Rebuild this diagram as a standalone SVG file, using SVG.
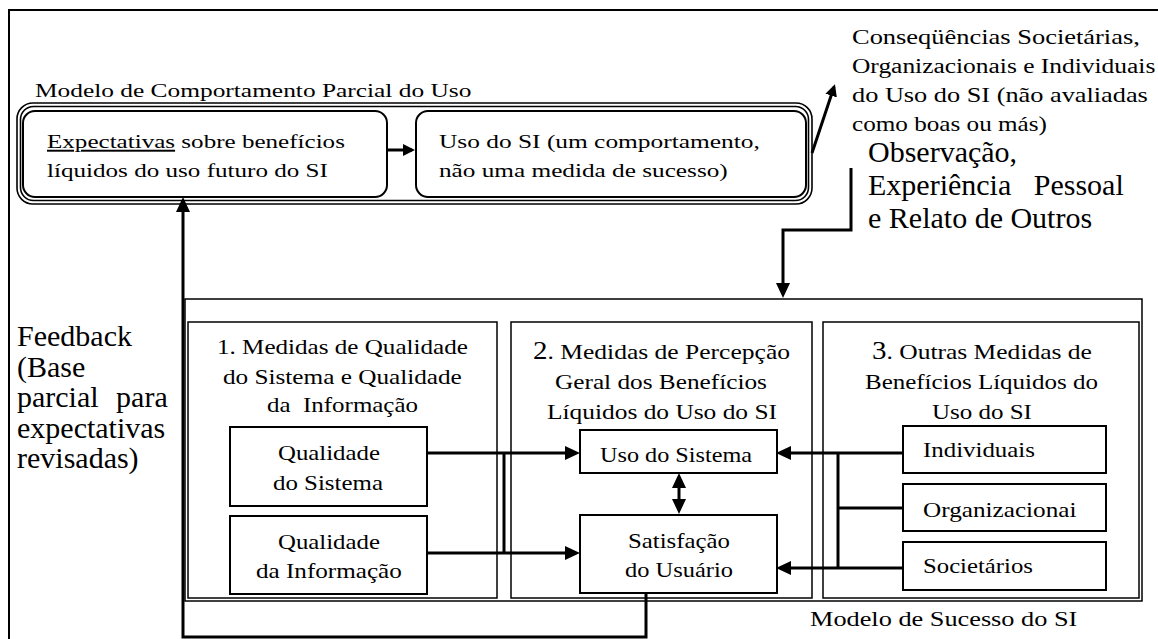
<svg xmlns="http://www.w3.org/2000/svg" width="1158" height="639" viewBox="0 0 1158 639">
<style>
text{fill:#000}
.box{fill:#fff;stroke:#000;stroke-width:2}
.col{fill:none;stroke:#000;stroke-width:1.5}
.rb{fill:none;stroke:#000;stroke-width:1.6}
.ln{fill:none;stroke:#000;stroke-width:3}
</style>
<defs>
<marker id="ah" viewBox="0 0 15 14" refX="11" refY="7" markerWidth="15" markerHeight="14" markerUnits="userSpaceOnUse" orient="auto-start-reverse"><path d="M0,0L15,7L0,14z" fill="#000"/></marker>
<marker id="ahs" viewBox="0 0 12 12" refX="9" refY="6" markerWidth="12" markerHeight="12" markerUnits="userSpaceOnUse" orient="auto"><path d="M0,0L12,6L0,12z" fill="#000"/></marker>
</defs>
<rect width="1158" height="639" fill="#fff"/>
<path d="M9,639V10H1158" fill="none" stroke="#000" stroke-width="2"/>

<g font-family="Liberation Serif, serif">
<g id="behavior-model" font-size="19.5">
<rect class="rb" x="17" y="103" width="795" height="101" rx="16"/>
<rect class="rb" x="20.5" y="106.5" width="788" height="94" rx="13"/>
<text transform="translate(35,97) scale(1.303,1)">Modelo de Comportamento Parcial do Uso</text>
</g>
<g id="expectativas" font-size="19.5">
<rect class="box" x="23" y="111" width="364" height="86" rx="12"/>
<text transform="translate(47,148) scale(1.286,1)"><tspan text-decoration="underline">Expectativas</tspan> sobre benefícios</text>
<text transform="translate(47,177) scale(1.287,1)">líquidos do uso futuro do SI</text>
</g>
<g id="uso-si" font-size="19.5">
<rect class="box" x="416" y="111" width="390" height="86" rx="12"/>
<text transform="translate(439,148) scale(1.303,1)">Uso do SI (um comportamento,</text>
<text transform="translate(439,177) scale(1.295,1)">não uma medida de sucesso)</text>
</g>
<g id="consequencias" font-size="20">
<text transform="translate(852,44) scale(1.323,1)">Conseqüências Societárias,</text>
<text transform="translate(852,73) scale(1.273,1)">Organizacionais e Individuais</text>
<text transform="translate(852,102) scale(1.316,1)">do Uso do SI (não avaliadas</text>
<text transform="translate(852,131) scale(1.258,1)">como boas ou más)</text>
</g>
<g id="observacao" font-size="30">
<text x="868" y="162">Observação,</text>
<text x="868" y="195" xml:space="preserve">Experiência   Pessoal</text>
<text x="868" y="228">e Relato de Outros</text>
</g>
<g id="feedback" font-size="30">
<text x="17" y="346">Feedback</text>
<text x="17" y="377">(Base</text>
<text x="17" y="407" word-spacing="10">parcial para</text>
<text x="17" y="438">expectativas</text>
<text x="17" y="468">revisadas)</text>
</g>

<g id="success-model" font-size="20">
<rect class="col" x="185" y="299" width="957" height="302"/>
<text transform="translate(810,626) scale(1.315,1)">Modelo de Sucesso do SI</text>
</g>
<g id="col1" font-size="22">
<rect class="col" x="188" y="322" width="309" height="276"/>
<text transform="translate(217,354) scale(1.141,1)">1. Medidas de Qualidade</text>
<text transform="translate(223,384) scale(1.147,1)">do Sistema e Qualidade</text>
<text transform="translate(267,412) scale(1.134,1)" xml:space="preserve">da  Informação</text>
</g>
<g id="col2" font-size="22">
<rect class="col" x="511" y="322" width="301" height="276"/>
<text transform="translate(533,359) scale(1.161,1)"><tspan font-size="25">2</tspan>. Medidas de Percepção</text>
<text transform="translate(555,389) scale(1.149,1)">Geral dos Benefícios</text>
<text transform="translate(547,419) scale(1.155,1)">Líquidos do Uso do SI</text>
</g>
<g id="col3" font-size="22">
<rect class="col" x="823" y="322" width="316" height="276"/>
<text transform="translate(872,359) scale(1.16,1)"><tspan font-size="25">3</tspan>. Outras Medidas de</text>
<text transform="translate(865,389) scale(1.135,1)">Benefícios Líquidos do</text>
<text transform="translate(932,419) scale(1.136,1)">Uso do SI</text>
</g>
<g id="qualidade-sistema" font-size="22">
<rect class="box" x="230" y="427" width="197" height="79"/>
<text transform="translate(278,460) scale(1.128,1)">Qualidade</text>
<text transform="translate(273,490) scale(1.132,1)">do Sistema</text>
</g>
<g id="qualidade-informacao" font-size="22">
<rect class="box" x="230" y="516" width="197" height="78"/>
<text transform="translate(278,549) scale(1.128,1)">Qualidade</text>
<text transform="translate(256,578) scale(1.143,1)">da Informação</text>
</g>
<g id="uso-sistema" font-size="22">
<rect class="box" x="580" y="430" width="197" height="43"/>
<text transform="translate(600,462) scale(1.102,1)">Uso do Sistema</text>
</g>
<g id="satisfacao" font-size="22">
<rect class="box" x="580" y="515" width="197" height="78"/>
<text transform="translate(628,548) scale(1.128,1)">Satisfação</text>
<text transform="translate(625,577) scale(1.111,1)">do Usuário</text>
</g>
<g id="individuais" font-size="22">
<rect class="box" x="903" y="426" width="203" height="47"/>
<text transform="translate(923,457) scale(1.131,1)">Individuais</text>
</g>
<g id="organizacionai" font-size="22">
<rect class="box" x="903" y="484" width="203" height="47"/>
<text transform="translate(923,517) scale(1.146,1)">Organizacionai</text>
</g>
<g id="societarios" font-size="22">
<rect class="box" x="903" y="542" width="203" height="48"/>
<text transform="translate(923,573) scale(1.125,1)">Societários</text>
</g>
</g>

<g id="connectors">
<path class="ln" d="M387,150H412" marker-end="url(#ahs)"/>
<path class="ln" stroke-width="2.2" d="M812,153L834,87" marker-end="url(#ahs)"/>
<path class="ln" d="M851,168V230H783V294" marker-end="url(#ah)"/>
<path class="ln" d="M646,593V637H183V201" marker-end="url(#ah)"/>
<path class="ln" d="M427,453H576" marker-end="url(#ah)"/>
<path class="ln" d="M427,553H576" marker-end="url(#ah)"/>
<path class="ln" d="M504,453V553"/>
<path class="ln" d="M903,453H780" marker-end="url(#ah)"/>
<path class="ln" d="M903,568H780" marker-end="url(#ah)"/>
<path class="ln" d="M903,508H838"/>
<path class="ln" stroke-width="4" d="M838,453V568"/>
<path class="ln" d="M679,477V510" marker-start="url(#ah)" marker-end="url(#ah)"/>
</g>
</svg>
